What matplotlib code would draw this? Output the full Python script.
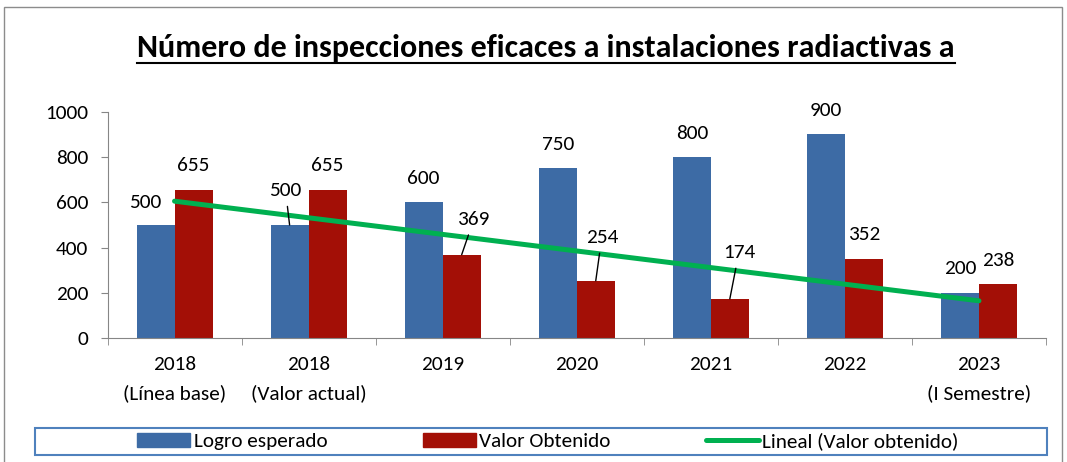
import numpy as np
import matplotlib
matplotlib.use('Agg')
import matplotlib.pyplot as plt
from matplotlib.patches import Patch, Rectangle
from matplotlib.lines import Line2D

plt.rcParams['font.family'] = ['Carlito', 'Lato', 'DejaVu Sans']

# data
categories = ['2018\n(Línea base)', '2018\n(Valor actual)', '2019', '2020',
              '2021', '2022', '2023\n(I Semestre)']
logro_esperado = [500, 500, 600, 750, 800, 900, 200]
valor_obtenido = [655, 655, 369, 254, 174, 352, 238]
titulo = 'Número de inspecciones eficaces a instalaciones radiactivas a'

# label offsets (px) from bar top, and which labels get a leader line
blue_off = [(-10, 23), (-4, 34), (0, 24), (0, 24), (0, 24), (0, 24), (0, 24)]
red_off = [(0, 24), (0, 24), (12, 35), (6, 43), (9, 46), (0, 24), (0, 24)]
blue_leader = [False, True, False, False, False, False, False]
red_leader = [False, False, True, True, True, False, False]

BLUE = '#3D6BA5'
RED = '#A30F06'
GREEN = '#00B050'
GRAY = '#868686'
W, H = 1067, 462
FS = 15.3

fig = plt.figure(figsize=(W / 100, H / 100), dpi=100)
ax = fig.add_axes([107.5 / W, 1 - 338.3 / H, (1046 - 107.5) / W, (338.3 - 111.7) / H])

x = np.arange(len(categories))
bw = 38 / 134
ax.bar(x - bw / 2, logro_esperado, bw, color=BLUE, zorder=2)
ax.bar(x + bw / 2, valor_obtenido, bw, color=RED, zorder=2)

# linear trendline of obtained values
coef = np.polyfit(x, valor_obtenido, 1)
ax.plot(x, np.polyval(coef, x), color=GREEN, lw=3.6, solid_capstyle='round', zorder=3)

def put_labels(xs, vals, offs, leaders):
    for xi, v, (dx, dy), ld in zip(xs, vals, offs, leaders):
        kw = {}
        if ld:
            kw['arrowprops'] = dict(arrowstyle='-', color='black', lw=1,
                                    shrinkA=3, shrinkB=0)
        ax.annotate(str(v), xy=(xi, v), xytext=(dx * 0.72, dy * 0.72),
                    textcoords='offset points', ha='center', va='center',
                    fontsize=FS, zorder=5, **kw)

put_labels(x - bw / 2, logro_esperado, blue_off, blue_leader)
put_labels(x + bw / 2, valor_obtenido, red_off, red_leader)

ax.set_xlim(-0.5, len(categories) - 0.5)
ax.set_ylim(0, 1000)
ax.set_yticks(range(0, 1001, 200))
ax.set_xticks(x)
ax.set_xticklabels(categories, fontsize=FS, linespacing=1.7)
ax.set_xticks(np.arange(-0.5, len(categories), 1), minor=True)
ax.tick_params(axis='x', which='major', length=0, pad=13)
ax.tick_params(axis='x', which='minor', length=5, color=GRAY, direction='out')
ax.tick_params(axis='y', length=5, color=GRAY, pad=9, labelsize=FS)
for s in ['top', 'right']:
    ax.spines[s].set_visible(False)
for s in ['left', 'bottom']:
    ax.spines[s].set_color(GRAY)

# title, scaled to the reference width, with underline
t = fig.text(546 / W, 1 - 57 / H, titulo, ha='center', va='baseline',
             fontsize=20, fontweight='bold')
r = fig.canvas.get_renderer()
bb = t.get_window_extent(r)
t.set_fontsize(20 * 818 / bb.width)
bb = t.get_window_extent(r)
uy = 1 - 62.5 / H
fig.add_artist(Line2D([bb.x0 / W, bb.x1 / W], [uy, uy], color='black', lw=1.5))

# legend
handles = [Patch(color=BLUE, label='Logro esperado'),
           Patch(color=RED, label='Valor Obtenido'),
           Line2D([], [], color=GREEN, lw=3.6, solid_capstyle='round',
                  label='Lineal (Valor obtenido)')]
fig.legend(handles=handles, loc='center', bbox_to_anchor=(548 / W, 1 - 441.5 / H),
           ncol=3, frameon=False, fontsize=FS, handlelength=2.5,
           handletextpad=0.15, columnspacing=4.5, borderpad=0)
fig.add_artist(Rectangle((35 / W, 1 - 455 / H), (1047 - 35) / W, 27 / H,
                         transform=fig.transFigure, fill=False,
                         ec='#4F81BD', lw=1.5))

# outer chart border (bottom edge is cut off in the reference)
fig.add_artist(Rectangle((4 / W, -0.05), (1062 - 4) / W, 1 - 7 / H + 0.05,
                         transform=fig.transFigure, fill=False, ec='#8C8C8C', lw=1))

fig.savefig('out.png', dpi=100)
